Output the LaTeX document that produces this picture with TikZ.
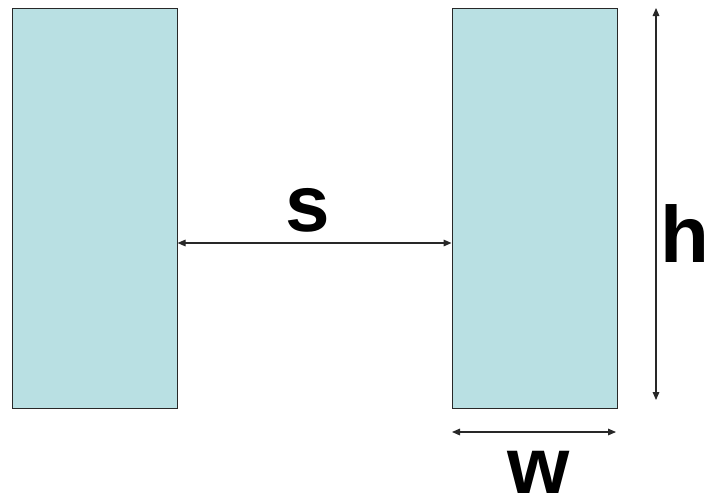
\documentclass[tikz,border=0pt]{standalone}
\usepackage{fontspec}
\setmainfont{Liberation Sans}
\usetikzlibrary{arrows.meta}
\definecolor{boxfill}{RGB}{185,224,227}
\definecolor{linegray}{RGB}{40,40,40}
\begin{document}
\begin{tikzpicture}[x=0.75pt,y=-0.75pt,
  plate/.style={draw=linegray,fill=boxfill,line width=0.8pt,inner sep=0pt,minimum width=165*0.75pt,minimum height=400*0.75pt},
  dim/.style={draw=linegray,line width=0.8pt,{Triangle[length=6pt,width=5pt]}-{Triangle[length=6pt,width=5pt]}},
  lbl/.style={font=\fontsize{60pt}{60pt}\selectfont\bfseries,inner sep=0pt}]
\useasboundingbox (0,0) rectangle (710,500);
\node[plate,anchor=north west] (L) at (11.5,8) {};
\node[plate,anchor=north west] (R) at (451.5,8) {};
\coordinate (sL) at (L.east |- 0,243);
\coordinate (sR) at (R.west |- 0,243);
\draw[dim] (sL) -- (sR);
\coordinate (hT) at (656,8);
\coordinate (hB) at (656,400);
\draw[dim] (hT) -- (hB);
\coordinate (wL) at (452,432);
\coordinate (wR) at (616,432);
\draw[dim] (wL) -- (wR);
\node[lbl,anchor=base] (s) at (308,231) {s};
\node[lbl,anchor=base] (w) at (539,493) {w};
\node[lbl,anchor=base east] (h) at (710,262) {h};
\end{tikzpicture}
\end{document}
